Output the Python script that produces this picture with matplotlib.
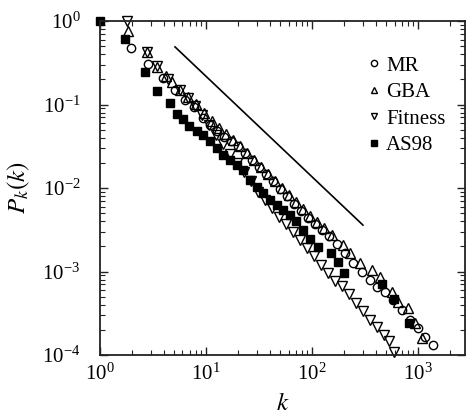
import matplotlib
matplotlib.use('Agg')
import matplotlib.pyplot as plt

plt.rcParams['font.family'] = 'serif'
plt.rcParams['font.serif'] = ['Liberation Serif', 'DejaVu Serif']
plt.rcParams['mathtext.fontset'] = 'stix'

# ---------------------------------------------------------------------------
# Degree distributions
# ---------------------------------------------------------------------------
MR_K = [1.96, 2.84, 3.93, 5.10, 6.34, 7.71, 9.37, 10.9, 12.7, 14.8,
        17.2, 20.0, 23.3, 27.2, 31.6, 36.8, 42.9, 49.9, 58.1, 67.6,
        78.7, 91.6, 107, 124, 145, 172, 205, 244, 296, 352,
        410, 488, 580, 706, 840, 1000, 1164, 1386]
MR_P = [0.475, 0.305, 0.208, 0.149, 0.113, 0.0933, 0.0689, 0.0568, 0.0482, 0.0408,
        0.0365, 0.0318, 0.0262, 0.0216, 0.0178, 0.0147, 0.0121, 0.00973, 0.00802, 0.00643,
        0.00531, 0.00438, 0.00371, 0.00314, 0.00266, 0.00213, 0.00167, 0.00126, 0.00099, 0.00079,
        0.00065, 0.00057, 0.00046, 0.000346, 0.000263, 0.000211, 0.000164, 0.000132]

GBA_K = [1.84, 2.78, 3.45, 4.19, 4.78, 5.69, 6.76, 8.05, 9.57, 11.4,
         13.3, 15.4, 18.0, 20.9, 24.4, 28.4, 33.0, 38.5, 44.8, 52.1,
         60.7, 70.6, 82.2, 95.7, 111, 130, 154, 196, 228, 284,
         368, 438, 569, 648, 805, 937, 1091]
GBA_P = [0.759, 0.425, 0.281, 0.219, 0.186, 0.149, 0.123, 0.101, 0.0791, 0.0634,
         0.0523, 0.0443, 0.0376, 0.0318, 0.0262, 0.0216, 0.0178, 0.0147, 0.0121, 0.0100,
         0.00824, 0.00680, 0.00561, 0.00462, 0.00392, 0.00332, 0.00274, 0.00208, 0.00167, 0.00126,
         0.00104, 0.00086, 0.00057, 0.00043, 0.000366, 0.000242, 0.000160]

FIT_K = [1.8, 2.78, 3.45, 4.38, 5.69, 6.76, 7.87, 9.17, 10.7, 12.4,
         14.5, 16.8, 19.6, 22.8, 26.6, 31.0, 36.0, 42.0, 48.8, 56.9,
         66.2, 77.1, 89.7, 104, 122, 142, 165, 192, 223, 260,
         303, 352, 410, 478, 532, 594]
FIT_P = [1.0, 0.425, 0.289, 0.202, 0.149, 0.120, 0.096, 0.0748, 0.0568, 0.0431,
         0.0336, 0.0255, 0.0199, 0.0155, 0.0121, 0.00895, 0.00718, 0.00576, 0.00449, 0.00371,
         0.00297, 0.00238, 0.00191, 0.00153, 0.00120, 0.00096, 0.00077, 0.00067, 0.00054, 0.00042,
         0.000337, 0.000263, 0.000216, 0.000174, 0.000147, 0.000109]

AS_K = [1, 1.72, 2.66, 3.45, 4.57, 5.33, 6.07, 6.91, 8.2, 9.37,
        10.9, 12.7, 14.5, 16.8, 19.6, 22.3, 26.0, 30.2, 34.4, 40.1,
        46.6, 53.1, 62.0, 70.6, 82.2, 95.7, 114, 151, 175, 200,
        458, 594, 822]
AS_P = [1.0, 0.61, 0.245, 0.145, 0.104, 0.077, 0.067, 0.055, 0.048, 0.043,
        0.0365, 0.0301, 0.0248, 0.0216, 0.0188, 0.0164, 0.0125, 0.0103, 0.0087, 0.0072,
        0.00626, 0.0055, 0.00475, 0.00403, 0.00314, 0.00245, 0.00196, 0.00167, 0.0013, 0.00096,
        0.00071, 0.00047, 0.00024]

# guide line (power-law reference)
REF_K = [5.1, 302]
REF_P = [0.49, 0.0036]


def main():
    fig = plt.figure(figsize=(4.67, 4.19), dpi=100)
    ax = fig.add_axes([0.2141, 0.1527, 0.7816, 0.7971])

    ax.plot(REF_K, REF_P, color='black', lw=1.2)

    open_kw = dict(ls='none', mfc='none', mec='black', mew=1.0, clip_on=False)
    ax.plot(MR_K, MR_P, marker='o', ms=6.0, label='MR', **open_kw)
    ax.plot(GBA_K, GBA_P, marker='^', ms=6.5, label='GBA', **open_kw)
    ax.plot(FIT_K, FIT_P, marker='v', ms=6.5, label='Fitness', **open_kw)
    ax.plot(AS_K, AS_P, marker='s', ms=5.5, ls='none', mfc='black', mec='black',
            label='AS98', clip_on=False)

    ax.set_xscale('log')
    ax.set_yscale('log')
    ax.set_xlim(1, 2770)
    ax.set_ylim(1e-4, 1)

    ax.tick_params(which='both', direction='in', top=True, right=True, color='#222222')
    ax.tick_params(which='major', length=6, width=1.0, labelsize=15)
    ax.tick_params(which='minor', length=3.5, width=0.8)
    ax.tick_params(axis='x', which='major', pad=6)
    ax.tick_params(axis='y', which='major', pad=14)
    for sp in ax.spines.values():
        sp.set_linewidth(1.3)
        sp.set_color('#222222')

    ax.set_xlabel(r'$k$', fontsize=18)
    ax.set_ylabel(r'$P_k(k)$', fontsize=18)
    ax.xaxis.set_label_coords(0.5, -0.115)
    ax.yaxis.set_label_coords(-0.185, 0.5)

    ax.legend(loc='upper left', bbox_to_anchor=(0.71, 0.92), frameon=False,
              fontsize=15, handlelength=0.6, handletextpad=0.3,
              labelspacing=0.33, markerscale=0.75, borderaxespad=0)

    fig.savefig('out.png', dpi=100)
    plt.close(fig)


if __name__ == '__main__':
    main()
